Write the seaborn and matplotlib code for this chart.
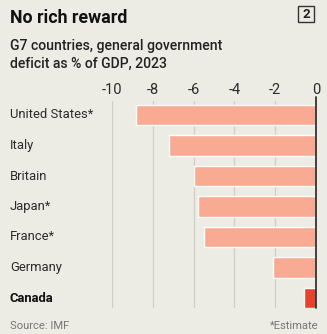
import matplotlib
matplotlib.use("Agg")
import matplotlib.pyplot as plt
import seaborn as sns
import pandas as pd
from matplotlib.patches import Rectangle

countries = ["United States*", "Italy", "Britain", "Japan*", "France*", "Germany", "Canada"]
deficit = [-8.8, -7.2, -6.0, -5.8, -5.5, -2.1, -0.6]
xticks = [-10, -8, -6, -4, -2, 0]
xtick_labels = ["-10", "-8", "-6", "-4", "-2", "0"]

BG = "#ECEBE4"
BAR = "#F8AA92"
HIGHLIGHT = "#E9412D"
TEXT = "#2b2b2b"

sns.set_theme(style="white")
plt.rcParams["font.family"] = ["Roboto", "DejaVu Sans"]

W, H = 327, 334
fig = plt.figure(figsize=(W / 100, H / 100), dpi=100, facecolor=BG)

left, right, top, bottom = 112, 316, 101, 308
ax = fig.add_axes([left / W, 1 - bottom / H, (right - left) / W, (bottom - top) / H])
ax.set_facecolor(BG)

df = pd.DataFrame({"country": countries, "deficit": deficit})
palette = {c: (HIGHLIGHT if c == "Canada" else BAR) for c in countries}
sns.barplot(data=df, x="deficit", y="country", hue="country", palette=palette,
            order=countries, orient="h", width=0.66, saturation=1, legend=False, ax=ax)

ax.set_xlim(-10, 0)
ax.set_ylim(6.33, -0.46)
ax.set_xticks(xticks)
ax.set_xticklabels(xtick_labels)
ax.xaxis.tick_top()
ax.tick_params(axis="x", length=0, pad=3, labelsize=10.5, labelcolor=TEXT)
ax.set_yticks([])
ax.set_xlabel("")
ax.set_ylabel("")
for s in ax.spines.values():
    s.set_visible(False)

for t in xticks[:-1]:
    ax.axvline(t, color="#cfcdc6", lw=0.9, zorder=0)
ax.axvline(0, ymin=0, ymax=1.02, color="#333333", lw=1.3, zorder=3, clip_on=False)

# Category labels down the left side
for i, c in enumerate(countries):
    bold = c == "Canada"
    ax.text(10 / W, 1 - (115 + i * 30.5) / H, c, transform=fig.transFigure,
            ha="left", va="center", fontsize=9.4,
            fontweight="bold" if bold else "normal", color=TEXT if not bold else "#111111")

fig.text(10 / W, 1 - 18 / H, "No rich reward", fontsize=12.8, fontweight="bold",
         color="#111111", ha="left", va="center")
fig.text(10 / W, 1 - 55 / H, "G7 countries, general government\ndeficit as % of GDP, 2023",
         fontsize=10.1, fontweight="medium", color="#222222", ha="left", va="center",
         linespacing=1.3)

fig.patches.append(Rectangle((298 / W, 1 - 22 / H), 16 / W, 16 / H, transform=fig.transFigure,
                             fill=False, edgecolor="#333333", lw=1.0))
fig.text(306 / W, 1 - 14 / H, "2", fontsize=9.5, fontweight="bold", color="#222222",
         ha="center", va="center")

fig.text(10 / W, 1 - 326 / H, "Source: IMF", fontsize=8.1, color="#777777", ha="left", va="center")
fig.text(319 / W, 1 - 326 / H, "*Estimate", fontsize=8.1, color="#777777", ha="right", va="center")

fig.savefig("out.png", dpi=100, facecolor=BG)
